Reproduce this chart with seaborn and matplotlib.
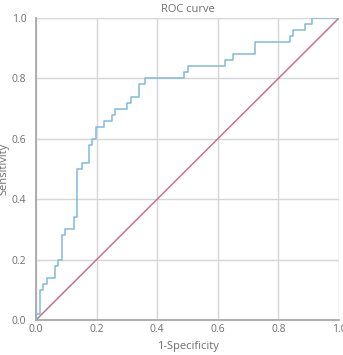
import matplotlib
matplotlib.use("Agg")
import matplotlib.pyplot as plt
import seaborn as sns
import pandas as pd

# === DATA ===
fpr = [0.0, 0.0, 0.012, 0.012, 0.024, 0.024, 0.037, 0.037, 0.064, 0.064,
       0.072, 0.072, 0.086, 0.086, 0.097, 0.097, 0.125, 0.125, 0.136, 0.136,
       0.152, 0.152, 0.174, 0.174, 0.185, 0.185, 0.197, 0.197, 0.224, 0.224,
       0.251, 0.251, 0.262, 0.262, 0.299, 0.299, 0.312, 0.312, 0.339, 0.339,
       0.361, 0.361, 0.488, 0.488, 0.501, 0.501, 0.625, 0.625, 0.649, 0.649,
       0.724, 0.724, 0.837, 0.837, 0.849, 0.849, 0.889, 0.889, 0.911, 0.911,
       1.0]
tpr = [0.0, 0.02, 0.02, 0.10, 0.10, 0.12, 0.12, 0.14, 0.14, 0.18,
       0.18, 0.20, 0.20, 0.28, 0.28, 0.30, 0.30, 0.34, 0.34, 0.50,
       0.50, 0.52, 0.52, 0.58, 0.58, 0.60, 0.60, 0.64, 0.64, 0.66,
       0.66, 0.68, 0.68, 0.70, 0.70, 0.72, 0.72, 0.74, 0.74, 0.78,
       0.78, 0.80, 0.80, 0.82, 0.82, 0.84, 0.84, 0.86, 0.86, 0.88,
       0.88, 0.92, 0.92, 0.94, 0.94, 0.96, 0.96, 0.98, 0.98, 1.0,
       1.0]
ref_line = [0.0, 1.0]
ticks = [0.0, 0.2, 0.4, 0.6, 0.8, 1.0]
tick_labels = ["0.0", "0.2", "0.4", "0.6", "0.8", "1.0"]

# === STYLE ===
sns.set_style("whitegrid")
plt.rcParams["font.family"] = ["Open Sans", "DejaVu Sans"]
TEXT_GRAY = "#6e6e6e"
ROC_BLUE = "#7fbbdc"
DIAG_PINK = "#c6728c"

fig = plt.figure(figsize=(3.43, 3.55), dpi=100)
ax = fig.add_axes([36 / 343, 35 / 355, 303 / 343, 302 / 355])

roc = pd.DataFrame({"fpr": fpr, "tpr": tpr})
diag = pd.DataFrame({"x": ref_line, "y": ref_line})

sns.lineplot(data=roc, x="fpr", y="tpr", sort=False, estimator=None,
             color=ROC_BLUE, linewidth=1.1, ax=ax, zorder=3)
sns.lineplot(data=diag, x="x", y="y", color=DIAG_PINK, linewidth=1.1,
             ax=ax, zorder=2)

ax.set_xlim(0, 1)
ax.set_ylim(0, 1)
ax.set_xticks(ticks)
ax.set_yticks(ticks)
ax.set_xticklabels(tick_labels)
ax.set_yticklabels(tick_labels)

ax.grid(True, color="#d6d6d6", linewidth=1.0)
for side in ["top", "right"]:
    ax.spines[side].set_visible(False)
for side in ["left", "bottom"]:
    ax.spines[side].set_color("#a8a8a8")
    ax.spines[side].set_linewidth(1.3)

ax.tick_params(axis="x", colors=TEXT_GRAY, labelsize=7.5, length=0, pad=3)
ax.tick_params(axis="y", colors=TEXT_GRAY, labelsize=7.5, length=4,
               width=0.8, pad=3)
ax.tick_params(axis="y", color="#b0b0b0")

ax.set_title("ROC curve", fontsize=8, color=TEXT_GRAY, pad=4)
ax.set_xlabel("1-Specificity", fontsize=8, color=TEXT_GRAY, labelpad=4)
ax.set_ylabel("Sensitivity", fontsize=8, color=TEXT_GRAY)
ax.yaxis.set_label_coords(-0.089, 0.5)

plt.savefig("out.png", dpi=100)
plt.close()
